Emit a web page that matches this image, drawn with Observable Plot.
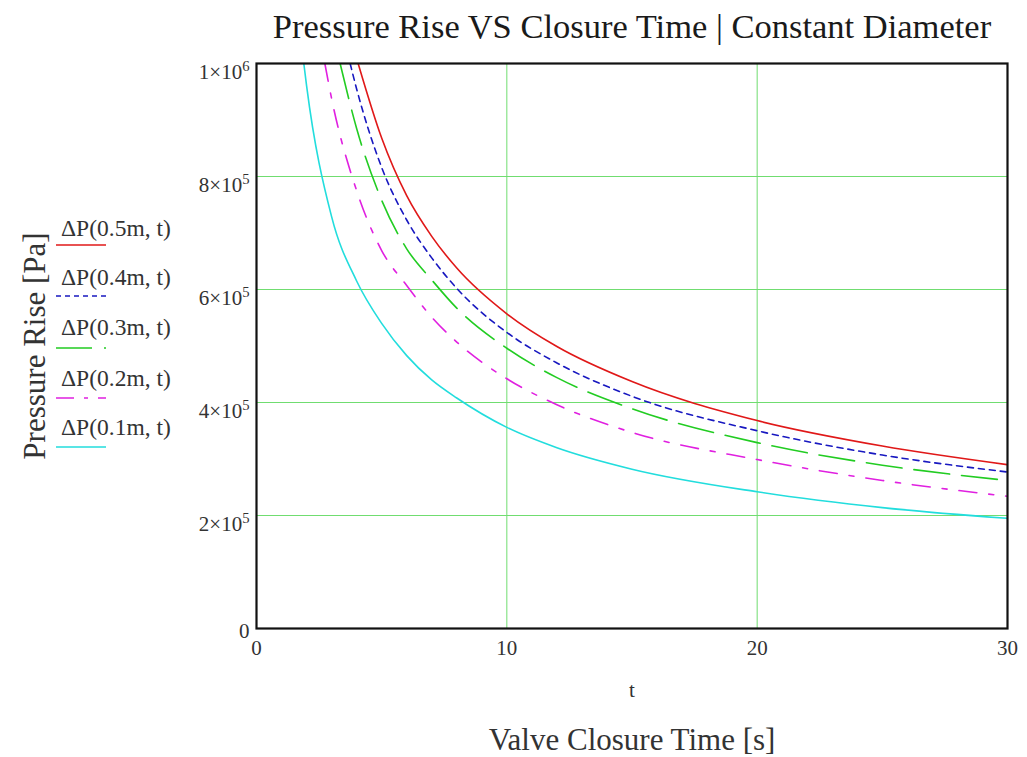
<!DOCTYPE html>
<html><head><meta charset="utf-8">
<script src="https://cdn.jsdelivr.net/npm/d3@7"></script>
<script src="https://cdn.jsdelivr.net/npm/@observablehq/plot@0.6"></script>
<style>
body{margin:0;background:#fff}
svg{font-family:"Liberation Serif","Times New Roman",serif}
</style>
</head><body><div id="chart"></div>
<script>
// ---- data ----
const diameters = ["0.5m", "0.4m", "0.3m", "0.2m", "0.1m"];
const t05 = [4.06, 5, 6, 7, 8, 10, 12, 15, 20, 25, 30];
const p05 = [1000, 868, 766, 694, 638, 557, 499, 437, 368, 323, 290]; // kPa
const t04 = [3.74, 4, 5, 6, 7, 8, 10, 12, 15, 20, 25, 30];
const p04 = [1000, 955, 816, 723, 656, 602, 524, 470, 411, 350, 307, 277];
const t03 = [3.34, 4, 5, 6, 7, 8, 10, 12, 15, 20, 25, 30];
const p03 = [1000, 885, 758, 672, 617, 567, 496, 444, 389, 329, 289, 262];
const t02 = [2.73, 3, 4, 5, 6, 7, 8, 10, 12, 15, 20, 25, 30];
const p02 = [1000, 938, 775, 669, 607, 551, 507, 442, 396, 347, 299, 262, 234];
const t01 = [1.89, 2, 3, 4, 5, 6, 7, 8, 10, 12, 15, 20, 25, 30];
const p01 = [1000, 961, 729, 615, 540, 483, 440, 408, 356, 320, 282, 242, 214, 195];

const xTicks = [0, 10, 20, 30];
const yTicks = [0, 2e5, 4e5, 6e5, 8e5, 1e6];
const xGrid = [10, 20];
const yGrid = [2e5, 4e5, 6e5, 8e5];

const titleText = "Pressure Rise VS Closure Time | Constant Diameter";
const yLabel = "Pressure Rise [Pa]";
const xVar = "t";
const xLabel = "Valve Closure Time [s]";

// ---- styles ----
const seriesStyle = [
  {color: "#e01818", dash: null, legendDash: null},
  {color: "#1818c0", dash: "6,5", legendDash: "5,4"},
  {color: "#22cc22", dash: "36,12", legendDash: "36,12"},
  {color: "#e020e0", dash: "18,12,5,12", legendDash: "18,10,4,10"},
  {color: "#22dddd", dash: null, legendDash: null}
];
const tArrays = [t05, t04, t03, t02, t01];
const pArrays = [p05, p04, p03, p02, p01];

const lineMarks = diameters.map((d, i) => {
  const rows = tArrays[i].map((t, j) => ({t, p: pArrays[i][j] * 1000}));
  return Plot.line(rows, {
    x: "t", y: "p", stroke: seriesStyle[i].color, strokeWidth: 1.6,
    strokeDasharray: seriesStyle[i].dash, curve: "monotone-x", clip: true
  });
});

const chart = Plot.plot({
  width: 1027, height: 757,
  marginLeft: 256, marginRight: 20, marginTop: 63, marginBottom: 129,
  style: {background: "#fff", color: "#333", fontFamily: "Liberation Serif, Times New Roman, serif"},
  x: {domain: [0, 30]},
  y: {domain: [0, 1e6]},
  marks: [
    Plot.ruleX(xGrid, {stroke: "#70dd70", strokeWidth: 1}),
    Plot.ruleY(yGrid, {stroke: "#70dd70", strokeWidth: 1}),
    ...lineMarks,
    Plot.frame({stroke: "#111", strokeWidth: 2.2}),
    Plot.axisX({ticks: xTicks, tickSize: 0, tickPadding: 12, fontSize: 22, label: null, tickFormat: d => String(d)}),
    Plot.axisY({ticks: yTicks, tickSize: 0, tickPadding: 7, fontSize: 22, label: null,
      tickFormat: d => d === 0 ? "0" : (d / (d >= 1e6 ? 1e6 : 1e5)) + "×10"}),
    Plot.text([titleText], {frameAnchor: "top", dy: -37, fontSize: 34.5, fill: "#1a1a1a", lineAnchor: "middle"}),
    Plot.text([yLabel], {frameAnchor: "left", dx: -221, rotate: -90, fontSize: 31, fill: "#333", lineAnchor: "middle", textAnchor: "middle"}),
    Plot.text([xVar], {frameAnchor: "bottom", dy: 62, fontSize: 21, fill: "#333", lineAnchor: "middle"}),
    Plot.text([xLabel], {frameAnchor: "bottom", dy: 112, fontSize: 31, fill: "#333", lineAnchor: "middle"})
  ]
});

// tick label size + superscript exponents on y tick labels
d3.select(chart).selectAll('g[aria-label="x-axis tick label"], g[aria-label="y-axis tick label"]')
  .attr("font-size", 21).style("font-size", "21px");
d3.select(chart).selectAll('g[aria-label="y-axis tick label"] text').each(function() {
  const s = this.textContent;
  if (s.endsWith("×10")) {
    const exp = s.startsWith("1×") ? "6" : "5";
    const el = d3.select(this);
    el.attr("dy", "0.4em");
    el.append("tspan").attr("dy", "-0.55em").attr("font-size", "0.7em").text(exp);
  } else {
    d3.select(this).attr("dy", "0.15em");
  }
});

// legend (left side)
const legendTextY = [228, 277, 327, 378, 427];
const legendLineY = [245, 296, 348, 398, 447];
const lg = d3.select(chart).append("g").attr("font-size", 23.5).attr("fill", "#333").attr("text-anchor", "start");
diameters.forEach((d, i) => {
  lg.append("text").attr("x", 61).attr("y", legendTextY[i]).attr("dy", "0.35em").text(`ΔP(${d}, t)`);
  lg.append("line").attr("x1", 56).attr("x2", 106).attr("y1", legendLineY[i]).attr("y2", legendLineY[i])
    .attr("stroke", seriesStyle[i].color).attr("stroke-width", 1.6)
    .attr("stroke-dasharray", seriesStyle[i].legendDash);
});

document.getElementById("chart").appendChild(chart);
</script>
</body></html>
